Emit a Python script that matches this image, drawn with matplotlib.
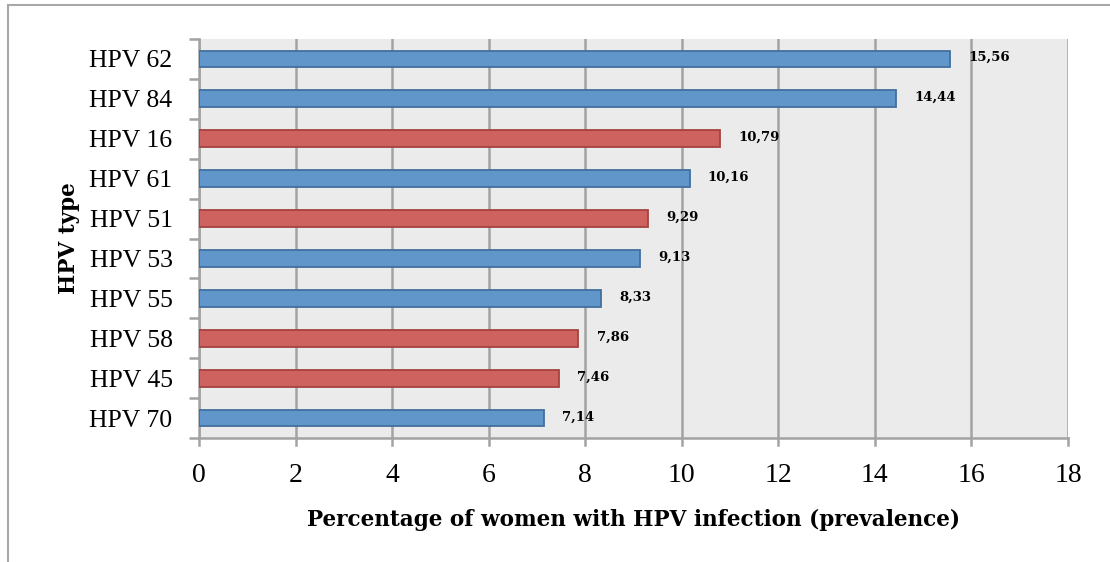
# plot.py
# HPV type prevalence, horizontal bars

import matplotlib.pyplot as plt
from matplotlib.lines import Line2D

types = ['HPV 70', 'HPV 45', 'HPV 58', 'HPV 55', 'HPV 53',
         'HPV 51', 'HPV 61', 'HPV 16', 'HPV 84', 'HPV 62']
values = [7.14, 7.46, 7.86, 8.33, 9.13, 9.29, 10.16, 10.79, 14.44, 15.56]
high_risk = ['HPV 45', 'HPV 58', 'HPV 51', 'HPV 16']
xticks = [0, 2, 4, 6, 8, 10, 12, 14, 16, 18]

blue = '#6196CB'
blue_edge = '#41709E'
red = '#CE625E'
red_edge = '#A4423F'
grey = '#A3A3A3'
bold_font = ['DejaVu Serif']

plt.rcParams['font.family'] = ['Liberation Serif', 'DejaVu Serif']

fig = plt.figure(figsize=(11.1, 5.62), dpi=100)
ax = fig.add_axes([199/1110, 1-438/562, (1068-199)/1110, (438-39)/562])
ax.set_facecolor('#EBEBEB')

colors = [red if t in high_risk else blue for t in types]
edges = [red_edge if t in high_risk else blue_edge for t in types]
ys = list(range(len(types)))
ax.barh(ys, values, height=0.42, color=colors, edgecolor=edges,
        linewidth=1.3, zorder=3)

for y, v in zip(ys, values):
    ax.text(v + 0.38, y + 0.03, ('%.2f' % v).replace('.', ','), va='center',
            ha='left', fontsize=9.5, fontweight='bold', family=bold_font,
            zorder=4)

ax.set_xlim(0, 18)
ax.set_ylim(-0.5, len(types) - 0.5)
ax.set_xticks(xticks)
ax.set_xticklabels([str(t) for t in xticks], fontsize=20)
ax.set_yticks(ys)
ax.set_yticklabels(types, fontsize=18.5)
ax.tick_params(axis='y', length=0, pad=19)
ax.tick_params(axis='x', length=0, pad=18)

# category boundary ticks on the y axis
ax.set_yticks([i - 0.5 for i in range(len(types) + 1)], minor=True)
ax.tick_params(axis='y', which='minor', length=7, width=1.8, color=grey)
ax.set_xticks([], minor=True)

ax.grid(axis='x', color=grey, linewidth=1.8, zorder=1)
ax.grid(axis='y', visible=False)
for s in ['top', 'right']:
    ax.spines[s].set_visible(False)
for s in ['left', 'bottom']:
    ax.spines[s].set_color(grey)
    ax.spines[s].set_linewidth(1.8)

# small tick marks under x axis
for x in xticks:
    line = Line2D([x, x], [0, -0.018], transform=ax.get_xaxis_transform(),
                  color=grey, linewidth=1.8, clip_on=False)
    ax.add_line(line)

ax.set_xlabel('Percentage of women with HPV infection (prevalence)',
              fontsize=15.5, fontweight='bold', family=bold_font, labelpad=15)
ax.set_ylabel('HPV type', fontsize=15.5, fontweight='bold', family=bold_font,
              labelpad=7)

# outer frame (cut on the right and bottom)
fig.add_artist(Line2D([8/1110, 1], [1-5/562, 1-5/562], color='#A8A8A8',
                      linewidth=1.5))
fig.add_artist(Line2D([8/1110, 8/1110], [0, 1-5/562], color='#A8A8A8',
                      linewidth=1.5))

fig.savefig('out.png', dpi=100)
